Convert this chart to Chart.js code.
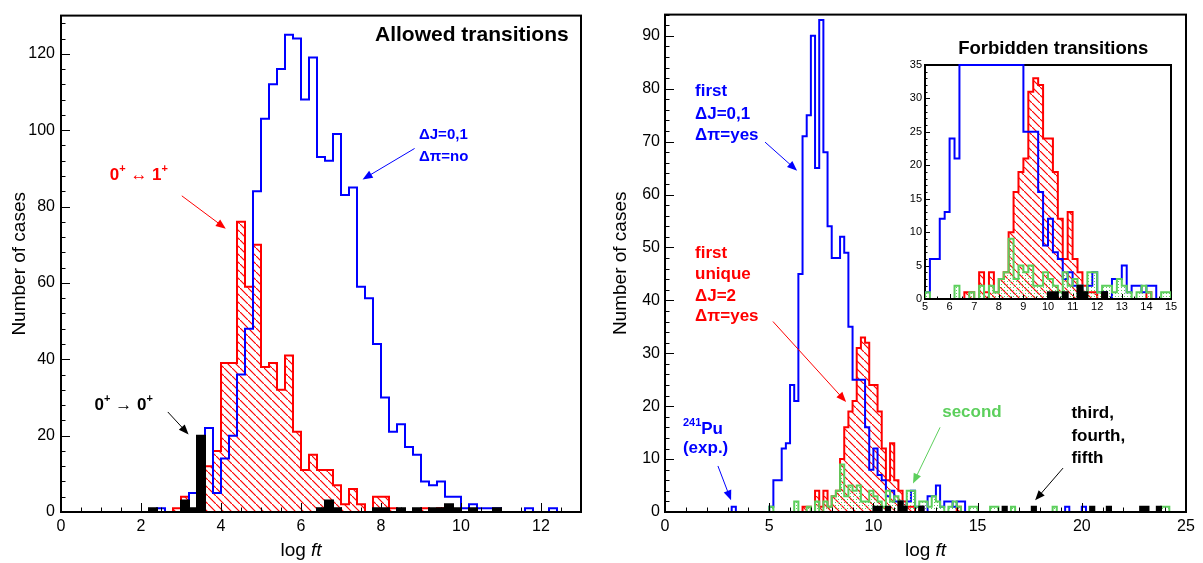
<!DOCTYPE html>
<html>
<head>
<meta charset="utf-8">
<script src="https://cdn.jsdelivr.net/npm/chart.js@4.4.0/dist/chart.umd.min.js"></script>
<style>
  body { margin: 0; background: #fff; width: 1203px; height: 563px; position: relative; overflow: hidden; }
  canvas { position: absolute; }
</style>
</head>
<body>
<canvas id="left" width="600" height="563" style="left:0;top:0"></canvas>
<canvas id="right" width="603" height="563" style="left:600px;top:0"></canvas>
<canvas id="inset" width="310" height="265" style="left:880px;top:55px"></canvas>
<script>
// bin width in log ft, all histograms start at 0
const binW = 0.2;

// allowed transitions, 65 bins from 0 to 13
const allowedDJ01 = [
  0, 0, 0, 0, 0, 0, 0, 0, 0, 0,
  0, 0, 1, 0, 0, 0, 5, 6, 22, 5,
  14, 20, 36, 48, 84, 103, 112, 116, 125, 124,
  108, 119, 93, 92, 99, 83, 85, 59, 56, 44,
  30, 21, 23, 17, 15, 8, 7, 8, 4, 4,
  1, 2, 1, 1, 1, 0, 0, 0, 1, 0,
  0, 1, 0, 0, 0];
const allowed01 = [
  0, 0, 0, 0, 0, 0, 0, 0, 0, 0,
  0, 0, 0, 0, 1, 4, 0, 3, 12, 16,
  39, 39, 76, 59, 70, 38, 39, 32, 41, 21,
  11, 15, 11, 11, 7, 2, 6, 2, 0, 4,
  4, 1, 0, 0, 0, 1, 0, 1, 0, 0,
  0, 0, 0, 0, 0, 0, 0, 0, 0, 0,
  0, 0, 0, 0, 0];
const allowed00 = [
  0, 0, 0, 0, 0, 0, 0, 0, 0, 0,
  0, 1, 0, 0, 0, 3, 1, 20, 0, 0,
  0, 0, 0, 0, 0, 0, 0, 0, 0, 0,
  0, 0, 1, 3, 1, 0, 0, 0, 0, 1,
  1, 0, 1, 0, 1, 0, 1, 1, 2, 1,
  0, 1, 0, 0, 1, 0, 0, 0, 0, 0,
  0, 0, 0, 0, 0];

// forbidden transitions, 125 bins from 0 to 25
const firstNonUnique = [
  0, 0, 0, 0, 0, 0, 0, 0, 0, 0,
  0, 0, 0, 0, 0, 0, 1, 0, 0, 0,
  0, 0, 0, 0, 0, 1, 6, 6, 12, 13,
  24, 21, 45, 71, 75, 90, 65, 93, 68, 54,
  48, 48, 52, 49, 35, 25, 25, 25, 16, 8,
  12, 7, 6, 3, 4, 2, 2, 1, 2, 4,
  1, 1, 0, 3, 3, 5, 1, 2, 2, 1,
  2, 2, 0, 0, 0, 0, 0, 0, 0, 0,
  0, 0, 0, 0, 0, 0, 0, 0, 0, 0,
  0, 0, 0, 0, 0, 0, 1, 0, 0, 0,
  1, 0, 0, 0, 0, 0, 0, 0, 0, 0,
  0, 0, 0, 0, 0, 0, 0, 0, 0, 0,
  0, 0, 0, 0, 0];
const firstUnique = [
  0, 0, 0, 0, 0, 0, 0, 0, 0, 0,
  0, 0, 0, 0, 0, 0, 0, 0, 0, 0,
  0, 0, 0, 0, 0, 0, 0, 0, 0, 0,
  0, 0, 0, 1, 1, 0, 4, 1, 4, 1,
  3, 4, 10, 16, 19, 21, 31, 33, 32, 24,
  24, 19, 12, 6, 13, 6, 4, 2, 1, 1,
  0, 1, 0, 0, 0, 0, 0, 0, 0, 0,
  1, 0, 0, 0, 0, 0, 0, 0, 0, 0,
  0, 0, 0, 0, 0, 0, 0, 0, 0, 0,
  0, 0, 0, 0, 0, 0, 0, 0, 0, 0,
  0, 0, 0, 0, 0, 0, 0, 0, 0, 0,
  0, 0, 0, 0, 0, 0, 0, 0, 0, 0,
  0, 0, 0, 0, 0];
const secondForbidden = [
  0, 0, 0, 0, 0, 0, 0, 0, 0, 0,
  0, 0, 0, 0, 0, 0, 0, 0, 0, 0,
  0, 0, 0, 0, 0, 1, 0, 0, 0, 0,
  0, 2, 0, 0, 1, 0, 2, 0, 2, 1,
  3, 4, 9, 3, 5, 4, 5, 2, 2, 4,
  3, 2, 1, 4, 2, 3, 2, 1, 4, 4,
  1, 2, 2, 1, 3, 2, 1, 0, 1, 2,
  1, 0, 0, 1, 1, 0, 0, 0, 1, 1,
  0, 0, 0, 1, 0, 0, 0, 0, 0, 0,
  0, 0, 0, 1, 0, 0, 0, 0, 0, 0,
  0, 0, 0, 0, 0, 0, 0, 0, 0, 0,
  0, 0, 0, 0, 0, 0, 0, 0, 0, 1,
  1, 0, 0, 0, 0];
const higherForbidden = [
  0, 0, 0, 0, 0, 0, 0, 0, 0, 0,
  0, 0, 0, 0, 0, 0, 0, 0, 0, 0,
  0, 0, 0, 0, 0, 0, 0, 0, 0, 0,
  0, 0, 0, 0, 0, 0, 0, 0, 0, 0,
  0, 0, 0, 0, 0, 0, 0, 0, 0, 0,
  1, 1, 0, 1, 0, 0, 2, 1, 0, 0,
  0, 1, 0, 0, 0, 0, 0, 0, 0, 0,
  0, 0, 0, 0, 0, 0, 0, 0, 0, 0,
  0, 1, 0, 0, 0, 0, 0, 0, 1, 0,
  0, 0, 0, 0, 0, 0, 0, 0, 0, 0,
  0, 0, 1, 0, 0, 0, 1, 0, 0, 0,
  0, 0, 0, 0, 1, 1, 0, 0, 1, 0,
  0, 0, 0, 0, 0];

const leftXTicks = [0, 2, 4, 6, 8, 10, 12];
const leftYTicks = [0, 20, 40, 60, 80, 100, 120];
const rightXTicks = [0, 5, 10, 15, 20, 25];
const rightYTicks = [0, 10, 20, 30, 40, 50, 60, 70, 80, 90];
const insetXTicks = [5, 6, 7, 8, 9, 10, 11, 12, 13, 14, 15];
const insetYTicks = [0, 5, 10, 15, 20, 25, 30, 35];

const FONT = '"Liberation Sans", Arial, Helvetica, sans-serif';
const BLUE = '#0000ff', RED = '#ff0000', GREEN = '#5ccf5c';

Chart.defaults.font.family = FONT;
Chart.defaults.color = '#000';

function steps(counts, cap) {
  const pts = [{ x: 0, y: 0 }];
  counts.forEach((c, i) => pts.push({ x: i * binW, y: cap ? Math.min(c, cap) : c }));
  pts.push({ x: counts.length * binW, y: 0 });
  return pts;
}

function hatch(color) {
  const c = document.createElement('canvas');
  c.width = c.height = 8;
  const g = c.getContext('2d');
  g.strokeStyle = color;
  g.lineWidth = 1.2;
  g.beginPath();
  g.moveTo(-1, -1); g.lineTo(9, 9);
  g.stroke();
  return g.createPattern(c, 'repeat');
}

function dots(color) {
  const c = document.createElement('canvas');
  c.width = c.height = 3;
  const g = c.getContext('2d');
  g.fillStyle = color;
  g.fillRect(1, 1, 1, 1);
  return g.createPattern(c, 'repeat');
}

// ROOT style frame with ticks pointing inwards
const framePlugin = {
  id: 'frame',
  drawFrame(chart, o) {
    const { ctx, chartArea: a, scales: { x, y } } = chart;
    ctx.save();
    ctx.strokeStyle = '#000';
    ctx.lineWidth = 1;
    ctx.beginPath();
    for (let v = x.min; v <= x.max + 1e-9; v += o.xMinor) {
      const px = Math.round(x.getPixelForValue(v)) + 0.5;
      const major = Math.abs(v / o.xMajor - Math.round(v / o.xMajor)) < 1e-6;
      ctx.moveTo(px, a.bottom);
      ctx.lineTo(px, a.bottom - (major ? o.major : o.minor));
    }
    for (let v = y.min; v <= y.max + 1e-9; v += o.yMinor) {
      const py = Math.round(y.getPixelForValue(v)) + 0.5;
      const major = Math.abs(v / o.yMajor - Math.round(v / o.yMajor)) < 1e-6;
      ctx.moveTo(a.left, py);
      ctx.lineTo(a.left + (major ? o.major : o.minor), py);
    }
    ctx.stroke();
    ctx.lineWidth = 2;
    ctx.strokeRect(a.left, a.top, a.right - a.left, a.bottom - a.top);
    ctx.restore();
  },
  beforeDatasetsDraw(chart, args, o) {
    const { ctx, chartArea: a } = chart;
    if (o.white) {
      ctx.save();
      ctx.fillStyle = '#fff';
      ctx.fillRect(a.left, a.top, a.right - a.left, a.bottom - a.top);
      ctx.restore();
    }
    if (o.under) this.drawFrame(chart, o);
  },
  afterDatasetsDraw(chart, args, o) {
    if (!o.under) this.drawFrame(chart, o);
  }
};

// rich text: strings are normal, one-element arrays are superscripts
function drawRich(ctx, parts, x, y, size, color, weight) {
  ctx.fillStyle = color;
  ctx.textBaseline = 'middle';
  let cx = x;
  parts.forEach(p => {
    if (Array.isArray(p)) {
      ctx.font = weight + ' ' + Math.round(size * 0.62) + 'px ' + FONT;
      ctx.fillText(p[0], cx, y - size * 0.36);
      cx += ctx.measureText(p[0]).width;
    } else {
      ctx.font = weight + ' ' + size + 'px ' + FONT;
      ctx.fillText(p, cx, y);
      cx += ctx.measureText(p).width;
    }
  });
}

function drawArrow(ctx, x1, y1, x2, y2, color) {
  const ang = Math.atan2(y2 - y1, x2 - x1);
  const len = 10, w = 4;
  ctx.strokeStyle = color;
  ctx.fillStyle = color;
  ctx.lineWidth = 1;
  ctx.beginPath();
  ctx.moveTo(x1, y1);
  ctx.lineTo(x2 - Math.cos(ang) * len * 0.8, y2 - Math.sin(ang) * len * 0.8);
  ctx.stroke();
  ctx.beginPath();
  ctx.moveTo(x2, y2);
  ctx.lineTo(x2 - Math.cos(ang) * len - Math.sin(ang) * w, y2 - Math.sin(ang) * len + Math.cos(ang) * w);
  ctx.lineTo(x2 - Math.cos(ang) * len + Math.sin(ang) * w, y2 - Math.sin(ang) * len - Math.cos(ang) * w);
  ctx.closePath();
  ctx.fill();
}

const notesPlugin = {
  id: 'notes',
  afterDraw(chart, args, o) {
    const { ctx, chartArea: a, scales: { x, y } } = chart;
    ctx.save();
    (o.arrows || []).forEach(ar => drawArrow(ctx,
      x.getPixelForValue(ar.from[0]), y.getPixelForValue(ar.from[1]),
      x.getPixelForValue(ar.to[0]), y.getPixelForValue(ar.to[1]), ar.color));
    (o.texts || []).forEach(t => drawRich(ctx, t.parts,
      x.getPixelForValue(t.x), y.getPixelForValue(t.y), t.size, t.color, 'bold'));
    if (o.xTitle) {
      const px = x.getPixelForValue(o.xTitle);
      ctx.fillStyle = '#000';
      ctx.textBaseline = 'alphabetic';
      ctx.font = '19px ' + FONT;
      const w1 = ctx.measureText('log ').width;
      ctx.font = 'italic 19px ' + FONT;
      const w2 = ctx.measureText('ft').width;
      const x0 = px - (w1 + w2) / 2;
      ctx.font = '19px ' + FONT;
      ctx.fillText('log ', x0, a.bottom + 44);
      ctx.font = 'italic 19px ' + FONT;
      ctx.fillText('ft', x0 + w1, a.bottom + 44);
    }
    if (o.yTitle) {
      ctx.save();
      ctx.translate(a.left - o.yTitleGap, (a.top + a.bottom) / 2);
      ctx.rotate(-Math.PI / 2);
      ctx.font = '19px ' + FONT;
      ctx.textAlign = 'center';
      ctx.textBaseline = 'middle';
      ctx.fillStyle = '#000';
      ctx.fillText('Number of cases', 0, 0);
      ctx.restore();
    }
    ctx.restore();
  }
};

function series(counts, color, fill, cap) {
  return {
    data: steps(counts, cap),
    borderColor: color,
    borderWidth: 2,
    backgroundColor: fill || 'rgba(0,0,0,0)',
    fill: fill ? 'origin' : false,
    stepped: 'before',
    pointRadius: 0,
    tension: 0,
    clip: { left: 0, top: 3, right: 0, bottom: 3 }
  };
}

function axes(c) {
  const tickFont = { family: FONT, size: c.tickSize };
  return {
    x: {
      type: 'linear', min: c.xMin, max: c.xMax,
      grid: { display: false, drawTicks: false }, border: { display: false },
      afterBuildTicks: s => { s.ticks = c.xTicks.map(v => ({ value: v })); },
      afterFit: s => { s.height = c.xH; },
      ticks: { autoSkip: false, maxRotation: 0, padding: c.xPad, font: tickFont, color: '#000' }
    },
    y: {
      type: 'linear', min: 0, max: c.yMax,
      grid: { display: false, drawTicks: false }, border: { display: false },
      afterBuildTicks: s => { s.ticks = c.yTicks.map(v => ({ value: v })); },
      afterFit: s => { s.width = c.yW; },
      ticks: { autoSkip: false, padding: c.yPad, font: tickFont, color: '#000' }
    }
  };
}

function baseOptions(c, frame, notes) {
  return {
    animation: false,
    responsive: false,
    events: [],
    layout: { padding: c.pad },
    plugins: { legend: { display: false }, tooltip: { enabled: false }, frame: frame, notes: notes },
    scales: axes(c)
  };
}

// left: allowed transitions
new Chart(document.getElementById('left'), {
  type: 'line',
  data: {
    datasets: [
      series(allowed00, '#000', '#000'),
      series(allowedDJ01, BLUE),
      series(allowed01, RED, hatch(RED))
    ]
  },
  options: baseOptions(
    { xMin: 0, xMax: 13, yMax: 130, xTicks: leftXTicks, yTicks: leftYTicks, xH: 51, yW: 61,
      xPad: 5, yPad: 6, tickSize: 16, pad: { top: 8, right: 19, left: 0, bottom: 0 } },
    { xMajor: 2, xMinor: 0.5, yMajor: 20, yMinor: 4, major: 9, minor: 4.5 },
    {
      xTitle: 6, yTitle: true, yTitleGap: 41,
      texts: [
        { parts: ['Allowed transitions'], x: 7.85, y: 124.8, size: 21, color: '#000' },
        { parts: ['\u0394J=0,1'], x: 8.95, y: 98.8, size: 15, color: BLUE },
        { parts: ['\u0394\u03c0=no'], x: 8.95, y: 92.9, size: 15, color: BLUE },
        { parts: ['0', ['+'], ' \u2194 1', ['+']], x: 1.22, y: 88.2, size: 17, color: RED },
        { parts: ['0', ['+'], ' \u2192 0', ['+']], x: 0.84, y: 27.9, size: 17, color: '#000' }
      ],
      arrows: [
        { from: [8.84, 95.2], to: [7.54, 87.1], color: BLUE },
        { from: [3.02, 82.8], to: [4.12, 74.2], color: RED },
        { from: [2.67, 26.2], to: [3.19, 20.3], color: '#000' }
      ]
    }),
  plugins: [framePlugin, notesPlugin]
});

// right: forbidden transitions
new Chart(document.getElementById('right'), {
  type: 'line',
  data: {
    datasets: [
      series(higherForbidden, '#000', '#000'),
      series(secondForbidden, GREEN, dots(GREEN)),
      series(firstNonUnique, BLUE),
      series(firstUnique, RED, hatch(RED))
    ]
  },
  options: baseOptions(
    { xMin: 0, xMax: 25, yMax: 94, xTicks: rightXTicks, yTicks: rightYTicks, xH: 51, yW: 65,
      xPad: 5, yPad: 5, tickSize: 16, pad: { top: 7, right: 17, left: 0, bottom: 0 } },
    { xMajor: 5, xMinor: 1, yMajor: 10, yMinor: 2, major: 9, minor: 4.5 },
    {
      xTitle: 12.5, yTitle: true, yTitleGap: 44,
      texts: [
        { parts: ['Forbidden transitions'], x: 14.07, y: 87.5, size: 18.5, color: '#000' },
        { parts: ['first'], x: 1.44, y: 79.5, size: 17, color: BLUE },
        { parts: ['\u0394J=0,1'], x: 1.44, y: 75.2, size: 17, color: BLUE },
        { parts: ['\u0394\u03c0=yes'], x: 1.44, y: 71.1, size: 17, color: BLUE },
        { parts: ['first'], x: 1.44, y: 48.8, size: 17, color: RED },
        { parts: ['unique'], x: 1.44, y: 44.9, size: 17, color: RED },
        { parts: ['\u0394J=2'], x: 1.44, y: 40.8, size: 17, color: RED },
        { parts: ['\u0394\u03c0=yes'], x: 1.44, y: 37.0, size: 17, color: RED },
        { parts: [['241'], 'Pu'], x: 0.86, y: 15.6, size: 17, color: BLUE },
        { parts: ['(exp.)'], x: 0.86, y: 12.1, size: 17, color: BLUE },
        { parts: ['second'], x: 13.3, y: 18.8, size: 17, color: GREEN },
        { parts: ['third,'], x: 19.5, y: 18.6, size: 17, color: '#000' },
        { parts: ['fourth,'], x: 19.5, y: 14.3, size: 17, color: '#000' },
        { parts: ['fifth'], x: 19.5, y: 10.2, size: 17, color: '#000' }
      ],
      arrows: [
        { from: [4.8, 69.9], to: [6.34, 64.5], color: BLUE },
        { from: [5.18, 36], to: [8.69, 20.8], color: RED },
        { from: [2.54, 8.7], to: [3.17, 2.2], color: BLUE },
        { from: [13.2, 16], to: [11.9, 5.4], color: GREEN },
        { from: [19.1, 8.3], to: [17.76, 2.2], color: '#000' }
      ]
    }),
  plugins: [framePlugin, notesPlugin]
});

// inset: zoom on 5..15, 0..35
new Chart(document.getElementById('inset'), {
  type: 'line',
  data: {
    datasets: [
      series(higherForbidden, '#000', '#000', 35),
      series(secondForbidden, GREEN, dots(GREEN), 35),
      series(firstNonUnique, BLUE, null, 35),
      series(firstUnique, RED, hatch(RED), 35)
    ]
  },
  options: baseOptions(
    { xMin: 5, xMax: 15, yMax: 35, xTicks: insetXTicks, yTicks: insetYTicks, xH: 21, yW: 45,
      xPad: 1, yPad: 3, tickSize: 11, pad: { top: 10, right: 19, left: 0, bottom: 0 } },
    { xMajor: 1, xMinor: 0.5, yMajor: 5, yMinor: 1, major: 5, minor: 2.5, under: true, white: true },
    {}),
  plugins: [framePlugin, notesPlugin]
});
</script>
</body>
</html>
